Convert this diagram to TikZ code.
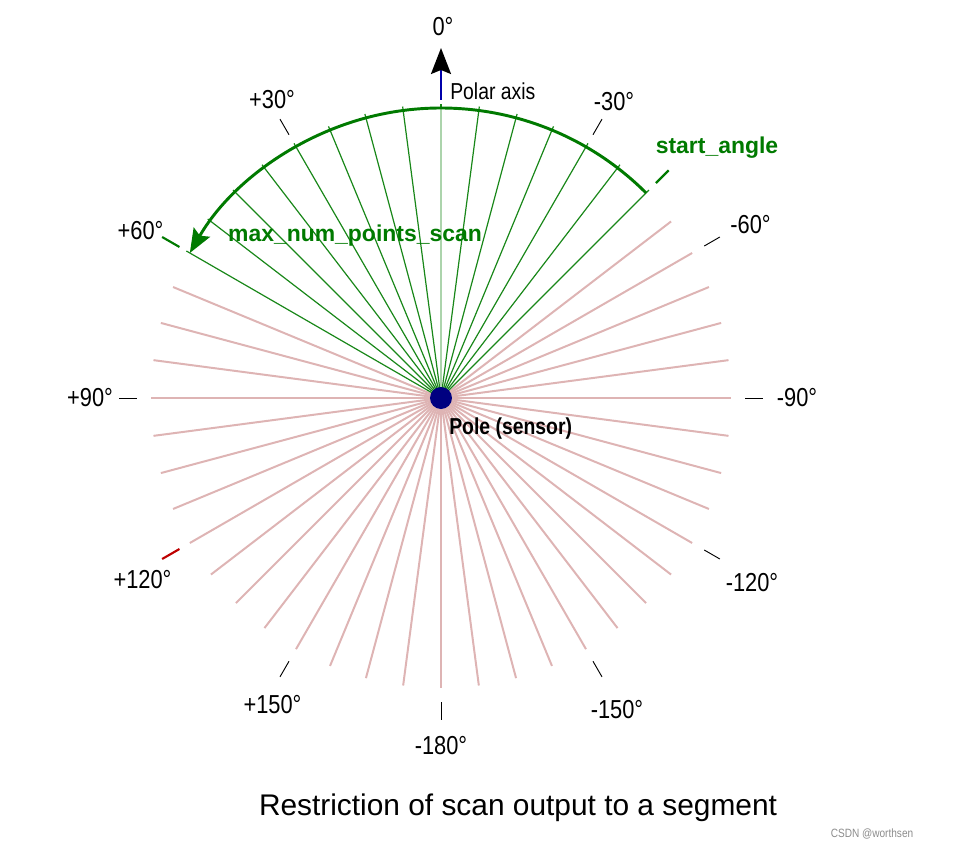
\documentclass[tikz,border=0pt]{standalone}
\usepackage{fontspec}
\setmainfont{Liberation Sans}
\newfontfamily\narrowsf{Liberation Sans}[FakeStretch=0.84]
\usepackage{tikz}
\usetikzlibrary{arrows.meta, positioning}

\definecolor{raypink}{RGB}{222,180,180}
\definecolor{raygreen}{RGB}{25,135,25}
\definecolor{arcgreen}{RGB}{0,122,0}
\definecolor{palegreen}{RGB}{172,212,172}
\definecolor{polenavy}{RGB}{0,0,128}
\definecolor{axisblue}{RGB}{0,0,170}
\definecolor{tickred}{RGB}{190,0,0}

\tikzset{
    pinkray/.style={raypink, line width=1.5pt},
    greenray/.style={raygreen, line width=0.9pt},
    anglemark/.style={black, line width=0.7pt},
    anglelabel/.style={font=\narrowsf\fontsize{19.5}{22}\selectfont, inner sep=0pt},
    paramlabel/.style={text=arcgreen, font=\bfseries\fontsize{17.2}{20}\selectfont, inner sep=0pt}
}

\begin{document}
\begin{tikzpicture}[x=0.75pt, y=0.75pt]
    \useasboundingbox (-441,-452) rectangle (512,398);
    \coordinate (o) at (0,0);

    % rays outside the segment
    \foreach \k in {9,...,41}
        \draw[pinkray] (o) -- ({90+7.5*\k}:290);

    % rays of the segment
    \foreach \k in {-6,...,8}
        \draw[greenray] (o) -- ({90+7.5*\k}:294);
    \draw[palegreen, line width=1.5pt] (o) -- (90:290);

    % scan direction
    \draw[arcgreen, line width=2.2pt, -{Stealth[length=18pt, width=14pt, inset=3pt]}]
        (45:290) arc[start angle=45, end angle=150, radius=290];

    % angle marks
    \foreach \a in {30,-30,-60,90,-90,-120,150,-150,180}
        \draw[anglemark] ({90+\a}:304) -- ({90+\a}:322);
    \draw[arcgreen, line width=1.6pt] (45:304) -- (45:322);
    \draw[arcgreen, line width=1.6pt] (150:302) -- (150:322);
    \draw[tickred, line width=1.6pt] (210:302) -- (210:322);

    % polar axis
    \draw[axisblue, line width=1.5pt, -{Stealth[length=19.5pt, width=15pt, inset=3pt, color=black]}]
        (90:298) -- (90:350);

    \foreach \x/\y/\t [count=\i] in {-169/298.5/+30°, 173/296.5/-30°, -300.5/167/+60°, 309.5/173.5/-60°,
            -351/0/+90°, 356/0/-90°, -298.5/-182/+120°, 311/-184.5/-120°,
            -168.5/-306.5/+150°, 176/-312/-150°, 0/-348/-180°}
        \node[anglelabel] (lbl\i) at (\x,\y) {\t};
    \node[anglelabel] (lbl0) at (2,371) {0°};

    \node[circle, fill=polenavy, minimum size=16.5pt, inner sep=0pt] (pole) at (o) {};

    \node[font=\narrowsf\fontsize{17.3}{20}\selectfont, anchor=west, inner sep=0pt] (axis) at (9,307) {Polar axis};
    \node[font=\narrowsf\bfseries\fontsize{17.3}{20}\selectfont, anchor=west, inner sep=0pt] (sensor) at (8,-31) {Pole (sensor)};
    \node[paramlabel] (start) at (276,250) {start\_angle};
    \node[paramlabel] (maxnum) at (-86,162) {max\_num\_points\_scan};

    \node[font=\fontsize{22.4}{26}\selectfont, inner sep=0pt] (title) at (77,-410) {Restriction of scan output to a segment};
    \node[font=\narrowsf\fontsize{9}{11}\selectfont, text=black!45, inner sep=0pt] (mark) at (431,-436) {CSDN @worthsen};
\end{tikzpicture}
\end{document}
